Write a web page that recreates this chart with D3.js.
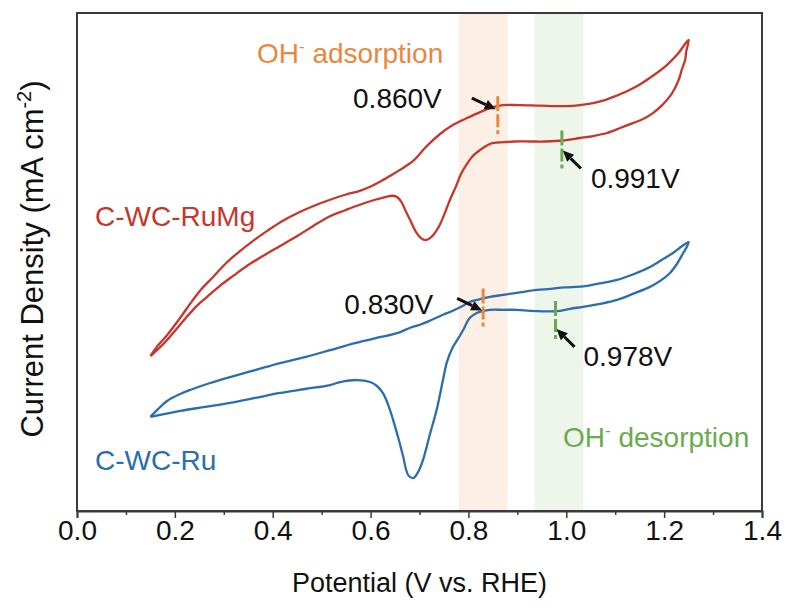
<!DOCTYPE html>
<html>
<head>
<meta charset="utf-8">
<script src="https://cdn.jsdelivr.net/npm/d3@7"></script>
<style>
  html, body { margin: 0; padding: 0; background: #ffffff; }
  svg { display: block; font-family: "Liberation Sans", Arial, sans-serif; }
</style>
</head>
<body>
<svg id="chart" width="787" height="608"></svg>
<script>
// Cyclic voltammograms (potential in V vs. RHE, current density in arbitrary units)

// C-WC-RuMg: forward (anodic) sweep
const ruMgFwdPotential = [0.150,0.164,0.184,0.211,0.231,0.251,0.278,0.305,0.333,0.362,0.388,0.419,0.450,0.482,0.517,0.548,0.578,0.599,0.619,0.640,0.660,0.687,0.713,0.742,0.768,0.797,0.824,0.850,0.871,0.905,0.946,0.999,1.028,1.055,1.079,1.095,1.124,1.151,1.177,1.206,1.228,1.250];
const ruMgFwdCurrent   = [3.11,3.31,3.53,3.88,4.16,4.42,4.70,4.98,5.22,5.44,5.62,5.82,5.98,6.12,6.25,6.35,6.43,6.51,6.61,6.73,6.85,7.03,7.31,7.57,7.75,7.89,8.01,8.11,8.15,8.15,8.14,8.13,8.15,8.19,8.25,8.31,8.43,8.57,8.74,8.96,9.18,9.46];
// C-WC-RuMg: reverse (cathodic) sweep
const ruMgRevPotential = [1.250,1.245,1.243,1.236,1.232,1.222,1.212,1.196,1.177,1.157,1.136,1.110,1.083,1.055,1.028,0.993,0.956,0.926,0.895,0.877,0.860,0.850,0.836,0.824,0.809,0.797,0.785,0.775,0.764,0.754,0.744,0.734,0.724,0.713,0.703,0.693,0.683,0.672,0.664,0.656,0.646,0.632,0.609,0.578,0.548,0.517,0.482,0.450,0.415,0.380,0.347,0.319,0.292,0.266,0.245,0.221,0.196,0.174,0.150];
const ruMgRevCurrent   = [9.46,9.22,9.06,8.86,8.72,8.49,8.33,8.15,7.99,7.87,7.79,7.69,7.59,7.53,7.49,7.44,7.42,7.42,7.42,7.41,7.40,7.39,7.33,7.25,7.13,6.97,6.77,6.53,6.29,6.04,5.80,5.62,5.50,5.44,5.48,5.60,5.80,6.02,6.19,6.29,6.33,6.31,6.25,6.15,6.04,5.92,5.72,5.52,5.32,5.12,4.92,4.72,4.52,4.30,4.12,3.86,3.57,3.33,3.11];

// C-WC-Ru: forward (anodic) sweep
const ruFwdPotential = [0.150,0.164,0.184,0.211,0.231,0.272,0.313,0.364,0.415,0.466,0.517,0.568,0.619,0.654,0.681,0.701,0.721,0.748,0.768,0.789,0.803,0.818,0.844,0.871,0.905,0.940,0.967,0.997,1.034,1.069,1.104,1.136,1.171,1.198,1.218,1.234,1.250];
const ruFwdCurrent   = [1.89,2.03,2.21,2.35,2.43,2.57,2.69,2.83,2.97,3.09,3.23,3.37,3.49,3.57,3.68,3.74,3.82,3.94,4.02,4.12,4.20,4.24,4.30,4.34,4.39,4.44,4.46,4.49,4.51,4.57,4.64,4.75,4.90,5.06,5.18,5.30,5.40];
// C-WC-Ru: reverse (cathodic) sweep
const ruRevPotential = [1.250,1.245,1.239,1.226,1.212,1.192,1.171,1.136,1.104,1.069,1.034,1.008,0.987,0.952,0.926,0.899,0.871,0.844,0.830,0.818,0.803,0.789,0.777,0.768,0.756,0.748,0.736,0.721,0.707,0.697,0.687,0.677,0.666,0.656,0.646,0.636,0.625,0.613,0.599,0.572,0.538,0.517,0.466,0.415,0.364,0.313,0.262,0.211,0.180,0.150];
const ruRevCurrent   = [5.40,5.28,5.18,4.96,4.78,4.62,4.50,4.36,4.24,4.16,4.10,4.06,4.02,4.01,4.02,4.04,4.04,4.04,4.02,3.98,3.88,3.63,3.43,3.29,2.99,2.63,2.07,1.53,1.02,0.78,0.66,0.72,1.12,1.49,1.83,2.13,2.37,2.51,2.59,2.63,2.59,2.53,2.45,2.37,2.27,2.17,2.09,2.01,1.95,1.89];

// Shaded potential windows
const adsorptionWindow = [0.78, 0.88];
const desorptionWindow = [0.935, 1.035];

// Marked onset potentials: value, label, curve and sweep they sit on
const markerPotentials = [0.860, 0.991, 0.830, 0.978];
const markerLabels     = ["0.860V", "0.991V", "0.830V", "0.978V"];
const markerSeries     = ["ruMg", "ruMg", "ru", "ru"];
const markerSweeps     = ["fwd", "rev", "fwd", "rev"];
const markerKinds      = ["ads", "des", "ads", "des"];

// Axis ticks
const majorTicks = [0.0, 0.2, 0.4, 0.6, 0.8, 1.0, 1.2, 1.4];
const minorTicks = [0.1, 0.3, 0.5, 0.7, 0.9, 1.1, 1.3];

const seriesNames = ["C-WC-RuMg", "C-WC-Ru"];

// ---------------------------------------------------------------------------
const svg = d3.select("#chart");
const margin = { left: 77, right: 25, top: 13, bottom: 97 };
const width = 787, height = 608;
const x = d3.scaleLinear().domain([0, 1.4]).range([margin.left, width - margin.right]);
const y = d3.scaleLinear().domain([0, 10]).range([height - margin.bottom, margin.top]);

const colors = {
  ruMg: "#c7362c",
  ru: "#2c6dab",
  ads: "#e8883f",
  des: "#6aab4c",
  adsFill: "#fcefe6",
  desFill: "#eef6ec"
};

const zip = (xs, ys) => xs.map((v, i) => [v, ys[i]]);
const branches = {
  ruMg: { fwd: zip(ruMgFwdPotential, ruMgFwdCurrent), rev: zip(ruMgRevPotential, ruMgRevCurrent) },
  ru:   { fwd: zip(ruFwdPotential, ruFwdCurrent),     rev: zip(ruRevPotential, ruRevCurrent) }
};

// Shaded windows
svg.append("rect")
  .attr("x", x(adsorptionWindow[0])).attr("y", y(10))
  .attr("width", x(adsorptionWindow[1]) - x(adsorptionWindow[0]))
  .attr("height", y(0) - y(10))
  .attr("fill", colors.adsFill);
svg.append("rect")
  .attr("x", x(desorptionWindow[0])).attr("y", y(10))
  .attr("width", x(desorptionWindow[1]) - x(desorptionWindow[0]))
  .attr("height", y(0) - y(10))
  .attr("fill", colors.desFill);

// CV loops
const line = d3.line()
  .x(d => x(d[0]))
  .y(d => y(d[1]))
  .curve(d3.curveCatmullRom.alpha(0.5));

["ruMg", "ru"].forEach(key => {
  const loop = branches[key].fwd.concat(branches[key].rev.slice(1));
  svg.append("path")
    .datum(loop)
    .attr("d", line)
    .attr("fill", "none")
    .attr("stroke", colors[key])
    .attr("stroke-width", 2.3)
    .attr("stroke-linejoin", "round");
});

// Interpolate the current of a sweep at a given potential
function currentAt(points, v) {
  for (let i = 0; i < points.length - 1; i++) {
    const a = points[i], b = points[i + 1];
    const lo = Math.min(a[0], b[0]), hi = Math.max(a[0], b[0]);
    if (v >= lo && v <= hi) {
      const t = (v - a[0]) / (b[0] - a[0] || 1);
      return a[1] + t * (b[1] - a[1]);
    }
  }
  return points[0][1];
}

// Arrow and label placement around each marker (pixel offsets)
const arrowLayout = [
  { tip: [-2, 3],  tail: [-26, -8], label: [-56, 2],  anchor: "end" },
  { tip: [1, 10],  tail: [19, 28],  label: [29, 47],  anchor: "start" },
  { tip: [-1, 12], tail: [-26, 0],  label: [-50, 16], anchor: "end" },
  { tip: [1, 18],  tail: [19, 36],  label: [28, 55],  anchor: "start" }
];

markerPotentials.forEach((v, i) => {
  const pts = branches[markerSeries[i]][markerSweeps[i]];
  const mx = x(v), my = y(currentAt(pts, v));
  // dashed marker
  svg.append("line")
    .attr("x1", mx).attr("x2", mx)
    .attr("y1", my - 10).attr("y2", my + 28)
    .attr("stroke", colors[markerKinds[i]])
    .attr("stroke-width", 3)
    .attr("stroke-dasharray", "15,3,13,3,4");

  // arrow
  const L = arrowLayout[i];
  const tip = [mx + L.tip[0], my + L.tip[1]];
  const tail = [mx + L.tail[0], my + L.tail[1]];
  const ang = Math.atan2(tip[1] - tail[1], tip[0] - tail[0]);
  const headLen = 11, headHalf = 5;
  const base = [tip[0] - headLen * Math.cos(ang), tip[1] - headLen * Math.sin(ang)];
  svg.append("line")
    .attr("x1", tail[0]).attr("y1", tail[1])
    .attr("x2", base[0]).attr("y2", base[1])
    .attr("stroke", "#111").attr("stroke-width", 3);
  const nx = -Math.sin(ang), ny = Math.cos(ang);
  svg.append("path")
    .attr("d", `M${tip[0]},${tip[1]}L${base[0] + nx * headHalf},${base[1] + ny * headHalf}L${base[0] - nx * headHalf},${base[1] - ny * headHalf}Z`)
    .attr("fill", "#111");

  svg.append("text")
    .attr("x", mx + L.label[0]).attr("y", my + L.label[1])
    .attr("text-anchor", L.anchor)
    .attr("font-size", 28)
    .attr("fill", "#111")
    .text(markerLabels[i]);
});

// Window captions
function ohCaption(xp, yp, word, color) {
  const t = svg.append("text")
    .attr("x", xp).attr("y", yp)
    .attr("font-size", 28)
    .attr("fill", color);
  t.append("tspan").text("OH");
  t.append("tspan").attr("dy", -11).attr("font-size", 17).text("-");
  t.append("tspan").attr("dy", 11).text(" " + word);
}
ohCaption(257, 63, "adsorption", colors.ads);
ohCaption(563, 447, "desorption", colors.des);

// Series labels
svg.append("text").attr("x", 95).attr("y", 226).attr("font-size", 28)
  .attr("fill", colors.ruMg).text(seriesNames[0]);
svg.append("text").attr("x", 95).attr("y", 470).attr("font-size", 28)
  .attr("fill", colors.ru).text(seriesNames[1]);

// Frame
svg.append("rect")
  .attr("x", x(0)).attr("y", y(10))
  .attr("width", x(1.4) - x(0)).attr("height", y(0) - y(10))
  .attr("fill", "none")
  .attr("stroke", "#3a3a3a")
  .attr("stroke-width", 2);

// X axis
const xAxis = svg.append("g")
  .attr("transform", `translate(0,${y(0)})`)
  .call(d3.axisBottom(x).tickValues(majorTicks).tickFormat(d3.format(".1f")).tickSize(7).tickPadding(2));
xAxis.select(".domain").attr("stroke", "#3a3a3a").attr("stroke-width", 2);
xAxis.selectAll(".tick line").attr("stroke", "#3a3a3a").attr("stroke-width", 1.5);
xAxis.selectAll(".tick text")
  .attr("font-family", "Liberation Sans, Arial, sans-serif")
  .attr("font-size", 28)
  .attr("fill", "#111");

const xMinor = svg.append("g")
  .attr("transform", `translate(0,${y(0)})`)
  .call(d3.axisBottom(x).tickValues(minorTicks).tickFormat("").tickSize(4));
xMinor.select(".domain").remove();
xMinor.selectAll(".tick line").attr("stroke", "#3a3a3a").attr("stroke-width", 1.5);

// Axis titles
svg.append("text")
  .attr("x", (x(0) + x(1.4)) / 2).attr("y", 592)
  .attr("text-anchor", "middle")
  .attr("font-size", 27)
  .attr("fill", "#111")
  .text("Potential (V vs. RHE)");

const yTitle = svg.append("text")
  .attr("transform", `translate(43,${(y(0) + y(10)) / 2 - 3}) rotate(-90)`)
  .attr("text-anchor", "middle")
  .attr("font-size", 31)
  .attr("fill", "#111");
yTitle.append("tspan").text("Current Density (mA cm");
yTitle.append("tspan").attr("dy", -12).attr("font-size", 20).text("-2");
yTitle.append("tspan").attr("dy", 12).text(")");
</script>
</body>
</html>
